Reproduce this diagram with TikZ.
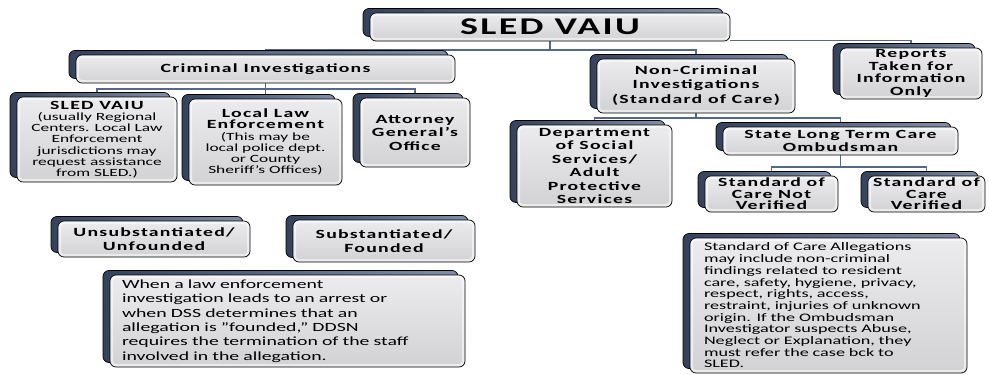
\documentclass[tikz,border=0pt]{standalone}
\usepackage{fontspec}
\setmainfont{Carlito}[FakeStretch=1.58, BoldFeatures={LetterSpace=10}]
\usetikzlibrary{shadows, backgrounds}

\definecolor{cardtop}{RGB}{236,236,238}
\definecolor{cardbot}{RGB}{210,210,213}
\definecolor{slatedark}{RGB}{52,66,92}
\definecolor{slatelight}{RGB}{128,142,166}
\definecolor{linkblue}{RGB}{84,104,136}

% bold heading line inside a card with smaller body text
\newcommand\cardhead[1]{{\fontsize{12.5}{13.5}\selectfont\bfseries #1}}

\begin{document}
\begin{tikzpicture}[
    x=1pt, y=-1pt,
    card/.style={
        rectangle, rounded corners=6pt,
        draw=black, line width=0.7pt,
        top color=cardtop, bottom color=cardbot,
        font=\fontsize{12.5}{13.5}\selectfont\bfseries,
        align=center, inner sep=1pt,
        % soft white bevel along the inside of the border
        path picture={\draw[white, opacity=0.55, line width=6pt, rounded corners=6pt]
            (path picture bounding box.south west) rectangle (path picture bounding box.north east);},
        general shadow={shadow xshift=-7pt, shadow yshift=4.5pt,
            draw=black, line width=0.7pt,
            left color=slatedark, right color=slatelight}
    },
    note/.style={card, align=left, font=\fontsize{12.5}{14.3}\selectfont},
    link/.style={draw=linkblue, line width=1.3pt}
]
\useasboundingbox (0,0) rectangle (989,375);

% top of the tree
\node[card, minimum width=360pt, minimum height=28pt,
      font=\fontsize{24}{26}\selectfont\bfseries] (vaiu) at (550,27) {SLED VAIU};

% criminal branch
\node[card, minimum width=379pt, minimum height=28pt] (crim) at (265.5,69) {Criminal Investigations};
\node[card, minimum width=160pt, minimum height=85pt,
      font=\fontsize{11}{11.2}\selectfont] (sled) at (97,139.5)
    {\cardhead{SLED VAIU}\\ (usually Regional\\
     Centers. Local Law\\ Enforcement\\ jurisdictions may\\
     request assistance\\ from SLED.)};
\node[card, minimum width=153pt, minimum height=86pt,
      font=\fontsize{11}{11.2}\selectfont] (local) at (265.5,142)
    {\cardhead{Local Law}\\ \cardhead{Enforcement}\\ (This may be\\
     local police dept.\\ or County\\ Sheriff's Offices)};
\node[card, minimum width=110pt, minimum height=69pt] (ag) at (415,132.5)
    {Attorney\\ General's\\ Office};

% non-criminal branch
\node[card, minimum width=198pt, minimum height=54pt] (noncrim) at (696,86)
    {Non-Criminal\\ Investigations\\[2pt] (Standard of Care)};
\node[card, minimum width=142pt, minimum height=51pt,
      font=\fontsize{12.5}{12.5}\selectfont\bfseries] (reports) at (911,73.5)
    {Reports\\ Taken for\\ Information\\ Only};
\node[card, minimum width=155pt, minimum height=82pt] (dss) at (594.5,166)
    {Department\\ of Social\\ Services/\\ Adult\\ Protective\\ Services};
\node[card, minimum width=235pt, minimum height=28pt,
      font=\fontsize{12.5}{12.5}\selectfont\bfseries] (ltc) at (840.5,141)
    {State Long Term Care\\ Ombudsman};
\node[card, minimum width=133pt, minimum height=36pt,
      font=\fontsize{12.5}{11.5}\selectfont\bfseries] (notver) at (771.5,194)
    {Standard of\\ Care Not\\ Verified};
\node[card, minimum width=117pt, minimum height=36pt,
      font=\fontsize{12.5}{11.5}\selectfont\bfseries] (ver) at (926.5,194)
    {Standard of\\ Care\\ Verified};

% findings
\node[card, minimum width=192pt, minimum height=36pt] (unsub) at (154,239)
    {Unsubstantiated/\\ Unfounded};
\node[card, minimum width=182pt, minimum height=42pt] (sub) at (384,241)
    {Substantiated/\\ Founded};

% explanatory notes
\node[note, minimum height=92pt, inner xsep=12pt, text width=331pt] (arrest) at (287.5,321)
    {When a law enforcement\\ investigation leads to an arrest or\\
     when DSS determines that an\\ allegation is "founded," DDSN\\
     requires the termination of the staff\\ involved in the allegation.};
\node[note, minimum height=135pt, inner xsep=14pt, text width=249pt,
      font=\fontsize{11.5}{11.7}\selectfont] (allege) at (828.5,305.5)
    {Standard of Care Allegations\\ may include non-criminal\\
     findings related to resident\\ care, safety, hygiene, privacy,\\
     respect, rights, access,\\ restraint, injuries of unknown\\
     origin. If the Ombudsman\\ Investigator suspects Abuse,\\
     Neglect or Explanation, they\\ must refer the case bck to\\ SLED.};

% elbow connectors behind the cards
\begin{scope}[on background layer]
\coordinate (bus0) at (0,50);
\coordinate (bus1) at (0,89);
\coordinate (bus2) at (0,118);
\coordinate (bus3) at (0,167);
\draw[link] (vaiu.south) -- (vaiu.south |- bus0) -| (crim.north);
\draw[link] (vaiu.south) -- (vaiu.south |- bus0) -| (noncrim.north);
\draw[link] ([yshift=1pt]vaiu.south east) -| (reports.north);
\foreach \kid in {sled, local, ag}
    \draw[link] (crim.south) -- (crim.south |- bus1) -| (\kid.north);
\foreach \kid in {dss, ltc}
    \draw[link] (noncrim.south) -- (noncrim.south |- bus2) -| (\kid.north);
\foreach \kid in {notver, ver}
    \draw[link] (ltc.south) -- (ltc.south |- bus3) -| (\kid.north);
\end{scope}
\end{tikzpicture}
\end{document}
